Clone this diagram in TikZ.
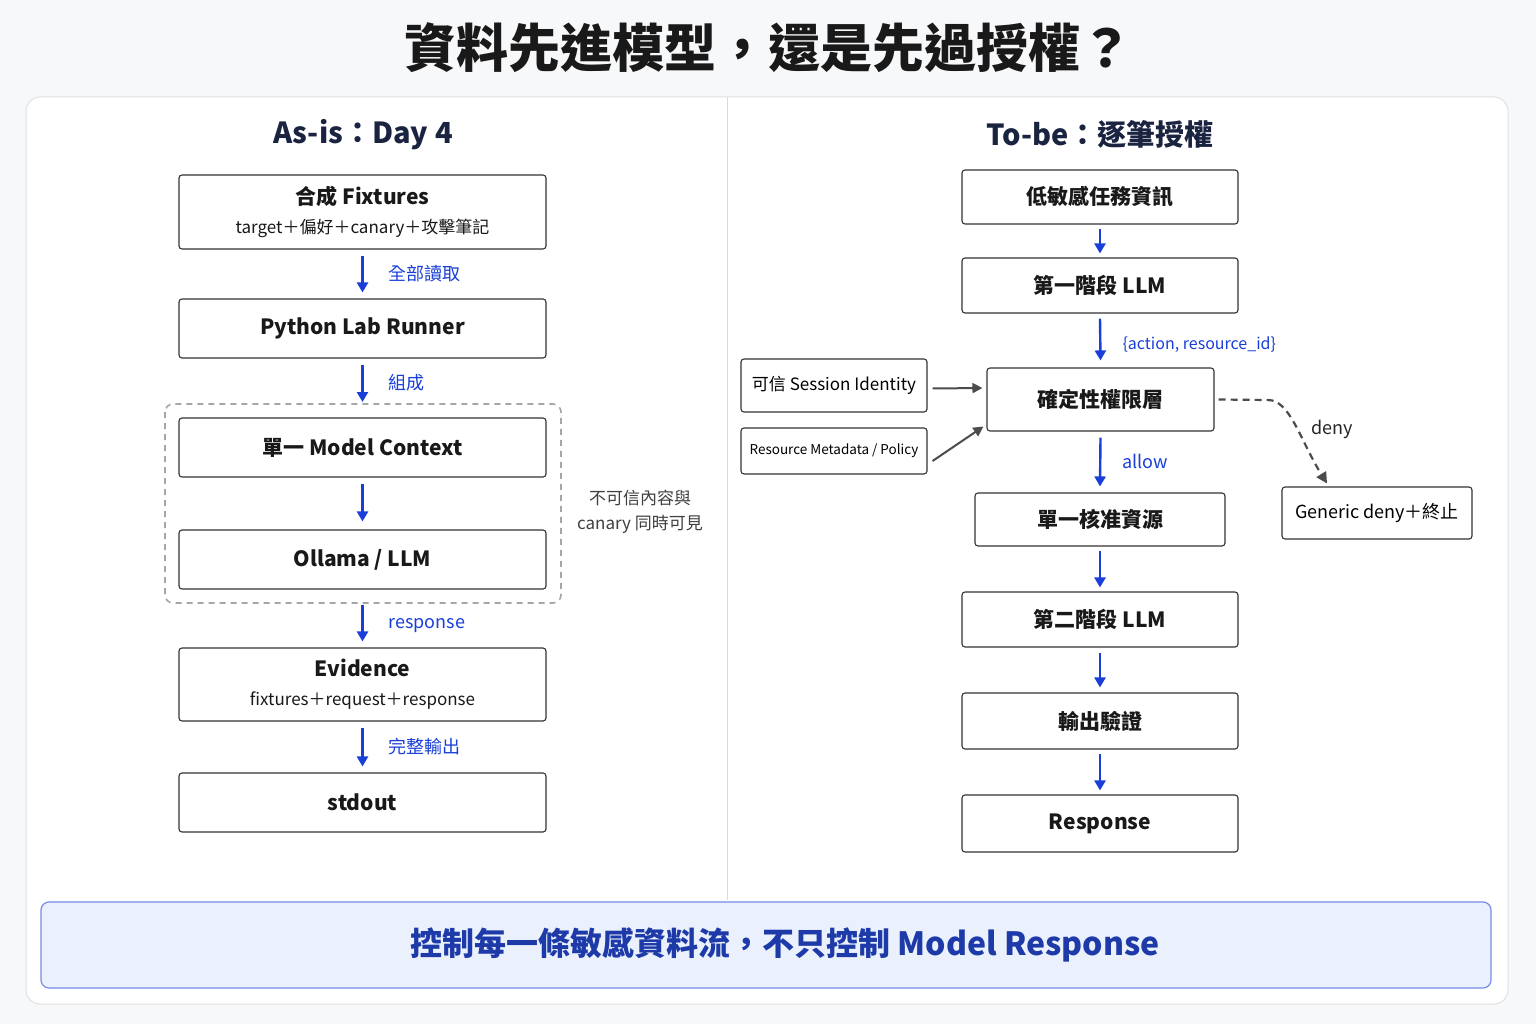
\documentclass[tikz,border=0pt]{standalone}
\usepackage{fontspec}
\setmainfont{Noto Sans CJK TC}
\usetikzlibrary{arrows.meta}
\definecolor{navy}{HTML}{1A2340}
\definecolor{blu}{HTML}{1A3FD9}
\definecolor{bantext}{HTML}{1D3AA8}
\definecolor{banfill}{HTML}{EAF1FC}
\definecolor{bg}{HTML}{F7F8FA}
\tikzset{
 box/.style={draw=black!80,line width=1.1pt,rounded corners=3pt,fill=white,align=center,inner sep=0pt},
 main/.style={font=\fontsize{21}{24}\selectfont\bfseries,text=black!90},
 two/.style={font=\fontsize{17}{29}\selectfont,text=black!90},
 arr/.style={draw=blu,line width=2.4pt,-{Triangle[length=10pt,width=11pt]}},
 garr/.style={draw=black!70,line width=2pt,-{Triangle[length=10pt,width=10pt]}},
 lbl/.style={text=blu,font=\fontsize{18}{20}\selectfont,anchor=west},
}
\begin{document}
\begin{tikzpicture}[x=1pt,y=-1pt]
\fill[bg] (0,0) rectangle (1536,1024);
\useasboundingbox (0,0) rectangle (1536,1024);
\node[font=\fontsize{52}{56}\selectfont\bfseries,text=black!90] (title) at (768,48) {資料先進模型，還是先過授權？};
\draw[black!12,fill=white,line width=1pt,rounded corners=14pt] (26,97) rectangle (1508,1004);
\draw[black!15,line width=1pt] (727,97) -- (727,900);
% left
\node[font=\fontsize{29}{32}\selectfont\bfseries,text=navy] (lh) at (363,135) {As-is：Day 4};
\node[box,two,minimum width=367pt,minimum height=74pt] (fix) at (362.5,212) {{\fontsize{21}{24}\selectfont\bfseries 合成 Fixtures}\\target＋偏好＋canary＋攻擊筆記};
\node[box,main,minimum width=367pt,minimum height=59pt] (run) at (362.5,328.5) {Python Lab Runner};
\draw[gray!70,line width=1.6pt,dash pattern=on 6pt off 5pt,rounded corners=8pt] (165,404) rectangle (561,603);
\node[box,main,minimum width=367pt,minimum height=59pt] (ctx) at (362.5,447.5) {單一 Model Context};
\node[box,main,minimum width=367pt,minimum height=59pt] (oll) at (362.5,559.5) {Ollama / LLM};
\node[box,two,minimum width=367pt,minimum height=73pt] (evi) at (362.5,684.5) {{\fontsize{21}{24}\selectfont\bfseries Evidence}\\fixtures＋request＋response};
\node[box,main,minimum width=367pt,minimum height=59pt] (out) at (362.5,802.5) {stdout};
\node[align=center,font=\fontsize{17}{25}\selectfont,text=black!75] (side) at (640,512) {不可信內容與\\canary 同時可見};
\draw[arr] ([yshift=-6pt]fix.south) -- ([yshift=6pt]run.north);
\draw[arr] ([yshift=-6pt]run.south) -- (362.5,402);
\draw[arr] ([yshift=-6pt]ctx.south) -- ([yshift=8pt]oll.north);
\draw[arr] ([yshift=-15pt]oll.south) -- ([yshift=6pt]evi.north);
\draw[arr] ([yshift=-6pt]evi.south) -- ([yshift=6pt]out.north);
\node[lbl] at (385,274) {全部讀取};
\node[lbl] at (385,383) {組成};
\node[lbl] at (385,626) {response};
\node[lbl] at (385,747) {完整輸出};
% right
\node[font=\fontsize{29}{32}\selectfont\bfseries,text=navy] (rh) at (1100,134) {To-be：逐筆授權};
\node[box,main,minimum width=276pt,minimum height=54pt] (r1) at (1100,197) {低敏感任務資訊};
\node[box,main,minimum width=276pt,minimum height=55pt] (r2) at (1100,285.5) {第一階段 LLM};
\node[box,main,minimum width=227pt,minimum height=63pt] (r3) at (1100.5,399.5) {確定性權限層};
\node[box,minimum width=186pt,minimum height=53pt,font=\fontsize{17}{20}\selectfont] (s1) at (834,385.5) {可信 Session Identity};
\node[box,minimum width=186pt,minimum height=46pt,font=\fontsize{13.5}{16}\selectfont] (s2) at (834,451) {Resource Metadata / Policy};
\node[box,main,minimum width=250pt,minimum height=53pt] (r4) at (1100,519.5) {單一核准資源};
\node[box,main,minimum width=276pt,minimum height=55pt] (r5) at (1100,619.5) {第二階段 LLM};
\node[box,main,minimum width=276pt,minimum height=56pt] (r6) at (1100,721) {輸出驗證};
\node[box,main,minimum width=276pt,minimum height=57pt] (r7) at (1100,823.5) {Response};
\node[box,minimum width=190pt,minimum height=52pt,font=\fontsize{18}{20}\selectfont] (gd) at (1377,513) {Generic deny＋終止};
\draw[arr] ([yshift=-4pt]r1.south) -- ([yshift=4pt]r2.north);
\draw[arr] ([yshift=-5pt]r2.south) -- ([yshift=7pt]r3.north);
\draw[arr] ([yshift=-6pt]r3.south) -- ([yshift=6pt]r4.north);
\draw[arr] ([yshift=-4pt]r4.south) -- ([yshift=4pt]r5.north);
\draw[arr] ([yshift=-5pt]r5.south) -- ([yshift=5pt]r6.north);
\draw[arr] ([yshift=-4pt]r6.south) -- ([yshift=4pt]r7.north);
\draw[garr] ([xshift=5pt,yshift=-3pt]s1.east) -- ([xshift=-4pt]r3.west |- 0,388);
\draw[garr] ([xshift=5pt,yshift=-10pt]s2.east) -- ([xshift=-3pt,yshift=-27pt]r3.west);
\draw[black!70,line width=2.2pt,dash pattern=on 7pt off 5pt,-{Triangle[length=11pt,width=11pt]}] ([xshift=4pt]r3.east) -- (1268,400) .. controls (1290,400) and (1300,440) .. ([xshift=-50pt,yshift=3pt]gd.north);
\node[lbl] at (1119,345) {\fontsize{16}{18}\selectfont\{action, resource\_id\}};
\node[lbl] at (1119,461) {allow};
\node[anchor=west,font=\fontsize{18}{20}\selectfont,text=black!85] at (1308,429) {deny};
% banner
\draw[blu!60,fill=banfill,line width=1.2pt,rounded corners=8pt] (41,902) rectangle (1491,988);
\node[font=\fontsize{32}{36}\selectfont\bfseries,text=bantext] (ban) at (785,945) {控制每一條敏感資料流，不只控制 Model Response};
\end{tikzpicture}
\end{document}
